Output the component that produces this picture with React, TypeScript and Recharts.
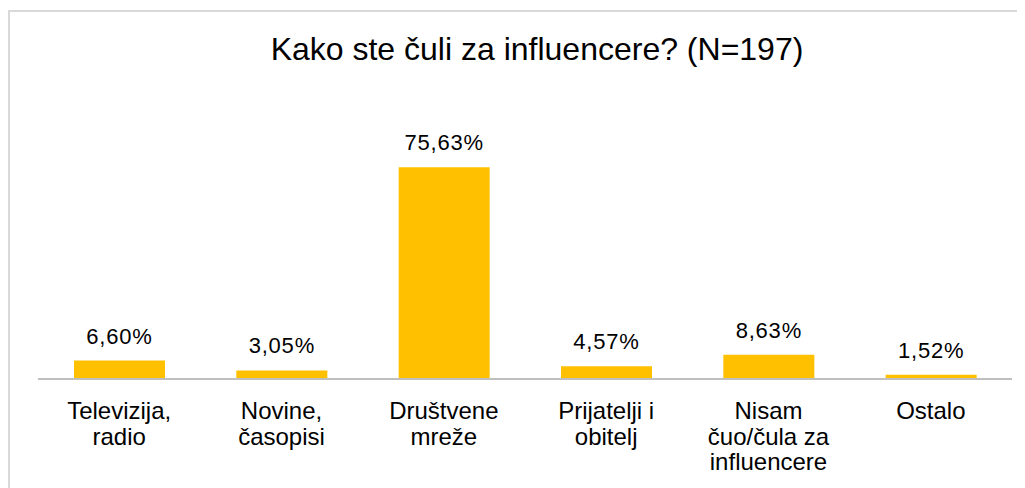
import { BarChart, Bar, XAxis, YAxis, LabelList } from 'recharts'

const CATEGORIES = [
  'Televizija,\nradio',
  'Novine,\nčasopisi',
  'Društvene\nmreže',
  'Prijatelji i\nobitelj',
  'Nisam\nčuo/čula za\ninfluencere',
  'Ostalo',
]
const VALUES = [6.6, 3.05, 75.63, 4.57, 8.63, 1.52]
const TITLE = 'Kako ste čuli za influencere? (N=197)'

const data = CATEGORIES.map((name, i) => ({ name, value: VALUES[i] }))

const FONT = '"Liberation Sans", Arial, sans-serif'

function CategoryTick(props: any) {
  const { x, y, payload } = props
  const lines = String(payload.value).split('\n')
  return (
    <text x={x} y={y + 38} textAnchor="middle" fill="#000" fontSize={24} fontFamily={FONT}>
      {lines.map((l, i) => (
        <tspan key={i} x={x} dy={i === 0 ? 0 : 25.5}>{l}</tspan>
      ))}
    </text>
  )
}

function ValueLabel(props: any) {
  const { x, y, width, value } = props
  return (
    <text x={x + width / 2} y={y - 17} textAnchor="middle" fill="#000" fontSize={22} fontFamily={FONT} letterSpacing={0.8}>
      {value.toFixed(2).replace('.', ',') + '%'}
    </text>
  )
}

export default function App() {
  return (
    <div style={{ position: 'relative', width: 1017, height: 480, overflow: 'hidden', background: '#fff' }}>
      <div style={{ position: 'absolute', left: 0, top: 2, width: 1040, height: 520, border: '2px solid #d9d9d9', boxSizing: 'border-box' }} />
      <div style={{
        position: 'absolute', left: 529, top: 25, transform: 'translateX(-50%)', whiteSpace: 'nowrap',
        fontFamily: FONT, fontSize: 32, lineHeight: '32px', color: '#000',
      }}>
        {TITLE}
      </div>
      <div style={{ position: 'absolute', left: 0, top: 0 }}>
        <BarChart width={1017} height={480} data={data} margin={{ top: 147, right: 13, left: 30, bottom: 9 }}>
          <XAxis
            dataKey="name"
            height={100}
            interval={0}
            tickLine={false}
            tickSize={0}
            axisLine={{ stroke: '#bfbfbf', strokeWidth: 2 }}
            tick={<CategoryTick />}
          />
          <YAxis hide domain={[0, 80]} />
          <Bar dataKey="value" fill="#ffc000" barSize={91} isAnimationActive={false}>
            <LabelList dataKey="value" content={<ValueLabel />} />
          </Bar>
        </BarChart>
      </div>
    </div>
  )
}
